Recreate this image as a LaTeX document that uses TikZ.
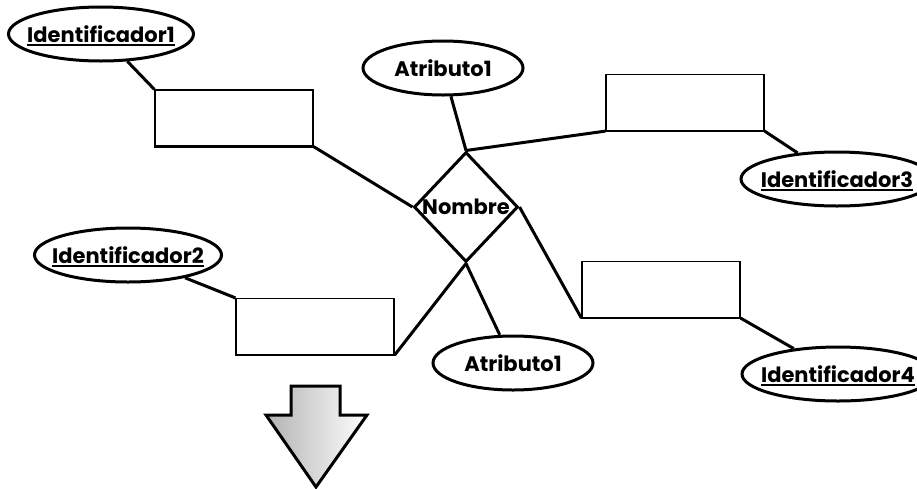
\documentclass[tikz,border=0pt]{standalone}
\usepackage{fontspec}
\setmainfont{Poppins}
\usetikzlibrary{shapes, arrows, positioning, arrows.meta}

\newcommand{\lbl}[1]{\makebox[0pt]{#1}}
\newcommand{\ulbl}[1]{\makebox[0pt]{\setbox0\hbox{#1}\rlap{\smash{\rule[-4pt]{\wd0}{2pt}}}\box0}}

\begin{document}
\begin{tikzpicture}[x=1pt, y=-1pt,
    every node/.style={font=\fontsize{21}{24}\selectfont\bfseries},
    ident/.style={ellipse, draw, line width=3pt, inner sep=0pt, minimum height=54pt, minimum width=#1},
    entbox/.style={draw, line width=1.2pt, inner sep=0pt, minimum width=158pt, minimum height=56pt},
    relbox/.style={diamond, draw, line width=3pt, inner sep=0pt, minimum width=104pt, minimum height=110pt},
    conn/.style={line width=3pt}]

    \clip (0,0) rectangle (917,488);

    % Relation
    \node[relbox] (nom) at (466,207) {\lbl{Nombre}};

    % Entities
    \node[entbox] (b1) at (234,118) {};
    \node[entbox] (b2) at (315,326.5) {};
    \node[entbox] (b3) at (685,102.5) {};
    \node[entbox] (b4) at (661,289.5) {};
    \foreach \b in {b1,b2,b3,b4} {
        \draw[line width=2pt] (\b.south west) -- (\b.south east);
    }

    % Identifiers and attributes
    \node[ident=185pt] (id1) at (101,34) {\ulbl{Identificador1}};
    \node[ident=187pt] (id2) at (128,255) {\ulbl{Identificador2}};
    \node[ident=192pt] (id3) at (837,179) {\ulbl{Identificador3}};
    \node[ident=192pt] (id4) at (838,374) {\ulbl{Identificador4}};
    \node[ident=160pt] (at1) at (443,68) {\lbl{Atributo1}};
    \node[ident=160pt] (at2) at (513,363) {\lbl{Atributo1}};

    % Lines to the relation
    \draw[conn] (b1.south east) -- (nom.west);
    \draw[conn] (nom.north) -- (b3.south west);
    \draw[conn] (nom.east) -- (b4.south west);
    \draw[conn] (nom.south) -- (b2.south east);
    \draw[conn] (at1) -- (nom.north);
    \draw[conn] (nom.south) -- (at2);

    % Lines to the identifiers
    \draw[conn] (id1) -- (b1.north west);
    \draw[conn] (id2) -- (b2.north west);
    \draw[conn] (b3.south east) -- (id3);
    \draw[conn] (b4.south east) -- (id4);

    % Arrow below
    \draw[line width=3pt, line join=miter, left color=gray!60, right color=white]
        (291,386) -- (340,386) -- (340,415) -- (367,415) -- (316,487)
        -- (266,415) -- (291,415) -- cycle;
\end{tikzpicture}
\end{document}
